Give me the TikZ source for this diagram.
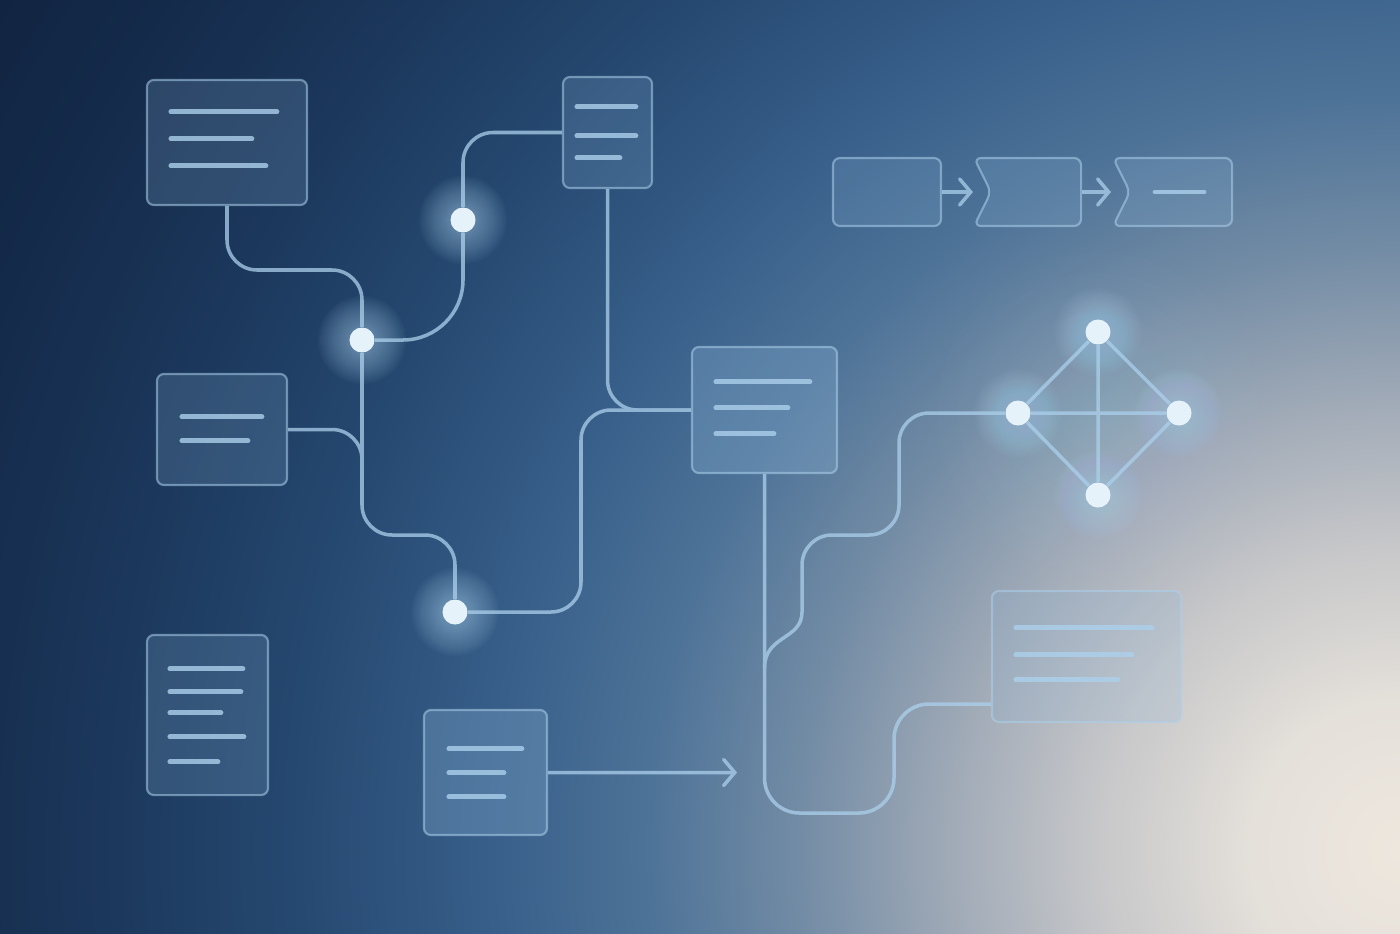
\documentclass[tikz,border=0pt]{standalone}
\usepackage{xcolor}
\usepackage{tikz}
\usetikzlibrary{positioning,arrows.meta,shapes.symbols}

\definecolor{s0}{RGB}{238,231,222}
\definecolor{s1}{RGB}{228,224,218}
\definecolor{s2}{RGB}{200,200,202}
\definecolor{s3}{RGB}{160,170,183}
\definecolor{s4}{RGB}{115,140,165}
\definecolor{s5}{RGB}{78,115,152}
\definecolor{s6}{RGB}{56,96,138}
\definecolor{s7}{RGB}{38,73,113}
\definecolor{s8}{RGB}{27,55,91}
\definecolor{s9}{RGB}{20,42,74}
\definecolor{s10}{RGB}{16,34,62}
\definecolor{cardc}{RGB}{140,180,215}
\definecolor{wirec}{RGB}{172,208,236}
\definecolor{dotc}{RGB}{230,242,250}
\definecolor{glowc}{RGB}{180,218,246}

% backdrop, stops in bp (1px = 0.2835bp)
\pgfdeclareradialshading{backdrop}{\pgfpoint{0bp}{0bp}}{color(0bp)=(s0); color(42.5bp)=(s1);
  color(85bp)=(s2); color(127.6bp)=(s3); color(170.1bp)=(s4); color(212.6bp)=(s5);
  color(255.1bp)=(s6); color(311.8bp)=(s7); color(368.5bp)=(s8); color(425.2bp)=(s9);
  color(481.9bp)=(s10)}

\pgfdeclarelayer{back}
\pgfsetlayers{back,main}

\begin{document}
\begin{tikzpicture}[x=0.01cm,y=-0.01cm,
      card/.style={draw=wirec, draw opacity=0.55, fill=cardc, fill opacity=0.2,
        rounded corners=0.07cm, line width=0.6pt, inner sep=0pt},
      bar/.style={wirec, line width=1.4pt, line cap=round, opacity=0.8},
      wire/.style={wirec, line width=1pt, rounded corners=0.3cm},
      dot/.style={circle, fill=dotc, inner sep=0pt, minimum size=0.25cm},
      tip/.style={-{Straight Barb[length=1.1mm,width=2.6mm,line cap=round]}}]
    \useasboundingbox (0,0) rectangle (1400,933);
    \begin{pgfonlayer}{back}
      \node[inner sep=0pt, outer sep=0pt] (bg) at (1400,850) {\pgfuseshading{backdrop}};
    \end{pgfonlayer}
    % cards
    \node[card, minimum width=1.6cm, minimum height=1.25cm] (A) at (227,142.5) {};
    \foreach \y/\l in {33/106,60/81,87/95}
      \draw[bar] ([shift={(25,\y)}]A.north west) -- ++(\l,0);
    \node[card, minimum width=1.3cm, minimum height=1.11cm] (B) at (222,429.5) {};
    \foreach \y/\l in {44/80,68/66}
      \draw[bar] ([shift={(26,\y)}]B.north west) -- ++(\l,0);
    \node[card, minimum width=0.89cm, minimum height=1.11cm] (C) at (607.5,132.5) {};
    \foreach \y/\l in {31/59,60/59,82/43}
      \draw[bar] ([shift={(15,\y)}]C.north west) -- ++(\l,0);
    \node[card, fill opacity=0.3, minimum width=1.45cm, minimum height=1.26cm] (D) at (764.5,410) {};
    \foreach \y/\l in {36/94,62/72,88/58}
      \draw[bar] ([shift={(25,\y)}]D.north west) -- ++(\l,0);
    \node[card, fill opacity=0.3, minimum width=1.23cm, minimum height=1.25cm] (E) at (485.5,772.5) {};
    \foreach \y/\l in {40/73,64/55,88/55}
      \draw[bar] ([shift={(26,\y)}]E.north west) -- ++(\l,0);
    \node[card, minimum width=1.89cm, minimum height=1.31cm] (F) at (1086.5,656.5) {};
    \foreach \y/\l in {38/136,65/116,90/102}
      \draw[bar] ([shift={(25,\y)}]F.north west) -- ++(\l,0);
    \node[card, minimum width=1.21cm, minimum height=1.6cm] (G) at (207.5,715) {};
    \foreach \y/\l in {35/73,58/71,79/51,103/74,128/48}
      \draw[bar] ([shift={(24,\y)}]G.north west) -- ++(\l,0);
    % pipeline
    \node[card, minimum width=1.08cm, minimum height=0.68cm] (b1) at (887,192) {};
    \node[card, signal, signal from=west, signal to=nowhere, signal pointer angle=127,
      minimum width=1.07cm, minimum height=0.68cm] (b2) at (1036,192) {};
    \node[card, signal, signal from=west, signal to=nowhere, signal pointer angle=127,
      minimum width=1.19cm, minimum height=0.68cm] (b3) at (1181,192) {};
    \draw[bar] ([xshift=-0.26cm]b3.center) -- ([xshift=0.23cm]b3.center);
    % dots
    \node[dot] (n1) at (362,340) {};
    \node[dot] (n2) at (463,220) {};
    \node[dot] (n3) at (455,612) {};
    \node[dot] (dt) at (1098,332) {};
    \node[dot] (dl) at (1018,413) {};
    \node[dot] (dr) at (1179,413) {};
    \node[dot] (db) at (1098,495) {};
    \begin{pgfonlayer}{back}
      \foreach \n in {n1,n2,n3,dt,dl,dr,db}
        \foreach \r in {6,8,...,44}
          \fill[glowc, opacity=0.035] (\n) circle (\r);
      \foreach \r in {20,40,...,160}
        \fill[glowc, opacity=0.02] (1098,413) circle (\r);
    \end{pgfonlayer}
    \coordinate (Eend) at (737,772.5);
    \coordinate (m1) at (802,612);
    \coordinate (m2) at (764.5,668);
    % wires
    \begin{scope}[transparency group, opacity=0.75]
      \draw[wire] (A.south) -- (227,270) -- (362,270) -- (n1);
      \draw[wire] (B.east) -- (362,429.5) -- (362,462);
      \draw[wire] (n1) -- (362,535) -- (455,535) -- (n3);
      \draw[wire, rounded corners=0.6cm] (n1) -- (463,340) -- (n2);
      \draw[wire] (n2) |- (C.west);
      \draw[wire] (C.south) |- (D.west);
      \draw[wire] (D.west) -- (581,410) -- (581,612) -- (n3);
      \draw[wire, rounded corners=0.35cm] (D.south) -- (764.5,813) -- (894,813)
        -- (894,704) -- (F.west |- 0,704);
      \draw[wire] (dl) -- (899,413) -- (899,535) -- (802,535) -- (m1);
      \draw[wire, sharp corners] (m1) .. controls (802,640) and (764.5,635) .. (m2);
      \foreach \a/\b in {dt/dl,dt/dr,db/dl,db/dr,dt/db,dl/dr}
        \draw[wire] (\a) -- (\b);
      \draw[wire, tip] (E.east) -- (Eend);
      \draw[wire, tip] (b1.east) -- ([xshift=-0.63cm]b2.center);
      \draw[wire, tip] (b2.east) -- ([xshift=-0.70cm]b3.center);
    \end{scope}
  \end{tikzpicture}
\end{document}
